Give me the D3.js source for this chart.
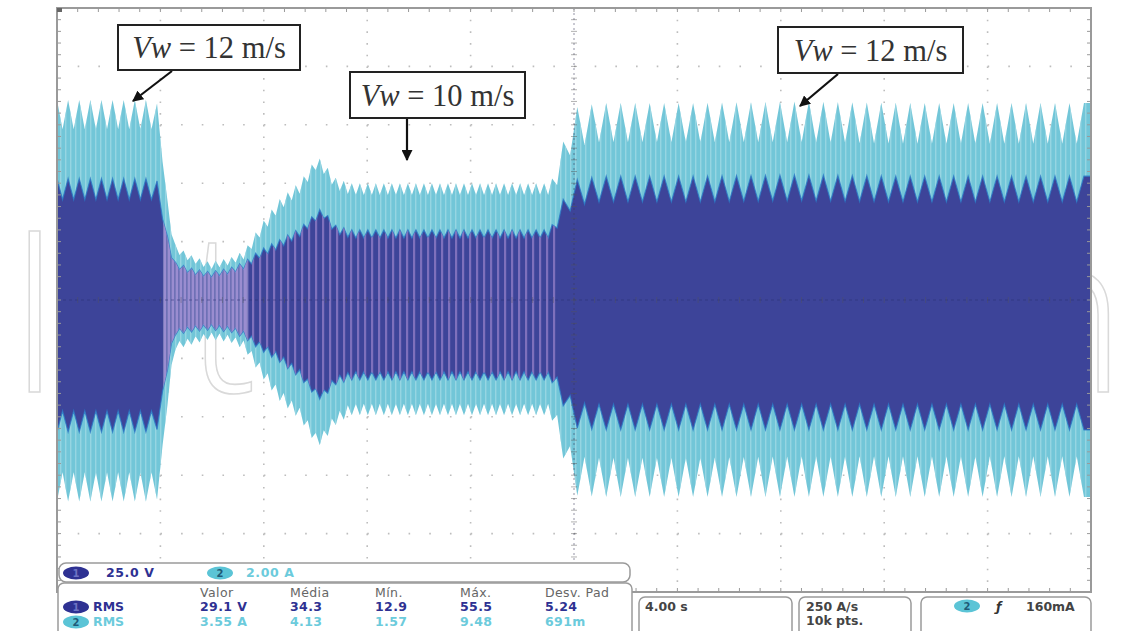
<!DOCTYPE html>
<html><head><meta charset="utf-8">
<script src="https://cdn.jsdelivr.net/npm/d3@7"></script>
<style>html,body{margin:0;padding:0;background:#fff;}svg{display:block;}</style>
</head><body>
<svg id="chart" width="1135" height="631"></svg>
<script>
// ---------- data read from the oscilloscope capture ----------
// time axis (s), 4.00 s/div, 10 divisions
const time = [0, 3.8, 4.0, 4.2, 4.55, 5.15, 5.9, 6.7, 7.25, 7.85, 8.6, 9.4, 10.05, 10.25, 10.75, 11.35, 15.2, 19.05, 19.25, 19.65, 20.05, 21, 24.9, 28.7, 32.6, 36.5, 40];
// channel 1 (voltage, 25.0 V/div) envelope peaks
const ch1Upper = [52, 52, 49, 30, 16.3, 13.7, 12, 13.7, 16.3, 21.4, 25.7, 30.8, 37.7, 39.4, 32.1, 30, 30, 30, 34.2, 44.9, 51.4, 53, 53, 53.5, 53, 53, 53];
const ch1Lower = [-56.5, -56.5, -53.5, -34, -15, -13.7, -12.8, -13.7, -16.3, -21.4, -26.5, -33.4, -41.9, -42.8, -36.4, -34.2, -34.2, -34.2, -36.4, -47, -54.8, -55.6, -55.6, -55.6, -55.6, -55.6, -55.6];
const ch1Ripple = [9, 9, 8, 4, 2.5, 2.5, 2.5, 2.5, 3, 3.5, 3.5, 3.5, 3.5, 3.5, 3.5, 3.5, 3.5, 3.5, 5, 9, 11, 11, 11, 11, 11, 11, 11];
// channel 2 (current, 2.00 A/div) envelope peaks
const ch2Upper = [6.85, 6.85, 6.5, 3.8, 1.9, 1.55, 1.3, 1.45, 1.7, 2.55, 3.45, 4.05, 4.9, 4.8, 4.2, 4.0, 4.0, 4.0, 4.3, 5.65, 6.6, 6.75, 6.75, 6.8, 6.75, 6.75, 6.75];
const ch2Lower = [-6.9, -6.9, -6.7, -4.1, -1.7, -1.55, -1.35, -1.45, -1.7, -2.55, -3.45, -4.1, -5.0, -4.95, -4.3, -3.95, -3.95, -3.95, -4.3, -5.65, -6.7, -6.75, -6.75, -6.75, -6.75, -6.75, -6.75];
const ch2Ripple = [1.0, 1.0, 0.8, 0.4, 0.25, 0.25, 0.25, 0.25, 0.3, 0.4, 0.4, 0.4, 0.4, 0.4, 0.4, 0.4, 0.4, 0.4, 0.6, 1.0, 1.35, 1.35, 1.35, 1.4, 1.4, 1.4, 1.4];
const beatPeriod = [0.43, 0.43, 0.43, 0.31, 0.31, 0.31, 0.31, 0.31, 0.31, 0.31, 0.31, 0.31, 0.31, 0.31, 0.31, 0.31, 0.31, 0.31, 0.45, 0.55, 0.56, 0.56, 0.56, 0.56, 0.56, 0.56, 0.56];

// annotations
const windLabels = [
  {speed: "12 m/s", box: [118, 25, 182, 45], arrow: [172, 71, 133, 101]},
  {speed: "10 m/s", box: [350, 72, 175, 46], arrow: [407, 118, 407, 160]},
  {speed: "12 m/s", box: [778, 27, 185, 46], arrow: [838, 74, 800, 106]}
];
// status readouts
const measHeader = ["Valor", "Média", "Mín.", "Máx.", "Desv. Pad"];
const measCh1 = ["29.1 V", "34.3", "12.9", "55.5", "5.24"];
const measCh2 = ["3.55 A", "4.13", "1.57", "9.48", "691m"];
const measX = [200, 290, 375, 460, 545];
const ch1Scale = "25.0 V", ch2Scale = "2.00 A";
const timebase = "4.00 s", sampleRate = ["250 A/s", "10k pts."], trigger = "160mA";

// ---------- layout ----------
const svg = d3.select("#chart");
const P = {x0: 57, x1: 1091, y0: 8, y1: 592};
const x = d3.scaleLinear().domain([0, 40]).range([P.x0, P.x1]);
const yV = d3.scaleLinear().domain([-125, 125]).range([P.y1, P.y0]);
const yA = d3.scaleLinear().domain([-10, 10]).range([P.y1, P.y0]);
const CYAN = "#72c6d8", BLUE = "#3d4499", LAV = "#8a78c2", EDGE = "#2a78c6";

const defs = svg.append("defs");
defs.append("clipPath").attr("id", "plotClip").append("rect")
  .attr("x", P.x0).attr("y", P.y0).attr("width", P.x1 - P.x0).attr("height", P.y1 - P.y0);
const lavPat = defs.append("pattern").attr("id", "lav").attr("patternUnits", "userSpaceOnUse").attr("width", 7).attr("height", 10);
lavPat.append("rect").attr("x", 0).attr("y", 0).attr("width", 2.2).attr("height", 10).attr("fill", LAV).attr("opacity", 0.85);
const lav2 = defs.append("pattern").attr("id", "lav2").attr("patternUnits", "userSpaceOnUse").attr("width", 4).attr("height", 10);
lav2.append("rect").attr("x", 0).attr("y", 0).attr("width", 2).attr("height", 10).attr("fill", "#9a8dd0");
lav2.append("rect").attr("x", 2.6).attr("y", 0).attr("width", 0.9).attr("height", 10).attr("fill", "#b9b0e0");
const cyPat = defs.append("pattern").attr("id", "cyp").attr("patternUnits", "userSpaceOnUse").attr("width", 5).attr("height", 10);
cyPat.append("rect").attr("x", 0).attr("y", 0).attr("width", 1.4).attr("height", 10).attr("fill", "#a6dce8").attr("opacity", 0.7);

// watermark (behind signals)
svg.append("text").attr("x", 8).attr("y", 392)
  .attr("textLength", 1118).attr("lengthAdjust", "spacingAndGlyphs")
  .attr("font-family", "'Open Sans', sans-serif").attr("font-weight", 300).attr("font-size", 225)
  .attr("fill", "none").attr("stroke", "#d9d9d9").attr("stroke-width", 1.6)
  .text("IntechOpen");

// grid
const grid = svg.append("g");
const vDiv = d3.range(0, 41, 4);
const hDiv = d3.range(-125, 126, 25);
grid.selectAll("line.v").data(vDiv.filter(d => d > 0 && d < 40 && d !== 20)).join("line")
  .attr("x1", d => x(d)).attr("x2", d => x(d)).attr("y1", P.y0).attr("y2", P.y1)
  .attr("stroke", "#bdbdbd").attr("stroke-width", 1.6).attr("stroke-dasharray", "1.6 10.08");
grid.selectAll("line.h").data(hDiv.filter(d => d > -125 && d < 125 && d !== 0)).join("line")
  .attr("x1", P.x0).attr("x2", P.x1).attr("y1", d => yV(d)).attr("y2", d => yV(d))
  .attr("stroke", "#bdbdbd").attr("stroke-width", 1.6).attr("stroke-dasharray", "1.6 19.08");

// ---------- signals ----------
function envelope(up, lo, rip) {
  const U = d3.scaleLinear().domain(time).range(up);
  const L = d3.scaleLinear().domain(time).range(lo);
  const R = d3.scaleLinear().domain(time).range(rip);
  const Pd = d3.scaleLinear().domain(time).range(beatPeriod);
  const pts = [];
  let t = 0, k = 0;
  while (t < 40) {
    const peak = k % 2 === 0;
    pts.push({t, top: peak ? U(t) : U(t) - R(t), bot: peak ? L(t) : L(t) + R(t)});
    t += Pd(t) / 2; k++;
  }
  pts.push({t: 40, top: U(40), bot: L(40)});
  return pts;
}
const sig = svg.append("g").attr("clip-path", "url(#plotClip)");
const cyanPts = envelope(ch2Upper, ch2Lower, ch2Ripple);
const bluePts = envelope(ch1Upper, ch1Lower, ch1Ripple);
const cyanArea = d3.area().x(d => x(d.t)).y0(d => yA(d.bot)).y1(d => yA(d.top));
const blueArea = d3.area().x(d => x(d.t)).y0(d => yV(d.bot)).y1(d => yV(d.top));

defs.append("clipPath").attr("id", "cyanClip").append("path").attr("d", cyanArea(cyanPts));
defs.append("clipPath").attr("id", "blueClip").append("path").attr("d", blueArea(bluePts));

sig.append("path").attr("d", cyanArea(cyanPts)).attr("fill", CYAN);
sig.append("rect").attr("clip-path", "url(#cyanClip)")
  .attr("x", P.x0).attr("y", P.y0).attr("width", P.x1 - P.x0).attr("height", P.y1 - P.y0).attr("fill", "url(#cyp)");
sig.append("path").attr("d", blueArea(bluePts)).attr("fill", BLUE).attr("stroke", EDGE).attr("stroke-width", 1.2).attr("stroke-opacity", 0.8);
sig.append("rect").attr("clip-path", "url(#blueClip)")
  .attr("x", x(7.2)).attr("y", P.y0).attr("width", x(19.3) - x(7.2)).attr("height", P.y1 - P.y0).attr("fill", "url(#lav)");
sig.append("rect").attr("clip-path", "url(#blueClip)")
  .attr("x", x(4.1)).attr("y", P.y0).attr("width", x(7.4) - x(4.1)).attr("height", P.y1 - P.y0).attr("fill", "url(#lav2)");

// centre cross with minor ticks (drawn over signals)
const cross = svg.append("g");
cross.append("line").attr("x1", x(20)).attr("x2", x(20)).attr("y1", P.y0).attr("y2", P.y1)
  .attr("stroke", "#3a3a5a").attr("stroke-opacity", 0.45).attr("stroke-width", 1.2).attr("stroke-dasharray", "2 3");
cross.append("line").attr("x1", P.x0).attr("x2", P.x1).attr("y1", yV(0)).attr("y2", yV(0))
  .attr("stroke", "#2a2d70").attr("stroke-opacity", 0.5).attr("stroke-width", 1.2).attr("stroke-dasharray", "3 3");
const minorT = d3.range(0, 40.01, 0.8);
const minorV = d3.range(-125, 125.01, 5);
cross.selectAll("line.mt").data(minorT).join("line")
  .attr("x1", d => x(d)).attr("x2", d => x(d)).attr("y1", yV(0) - 3).attr("y2", yV(0) + 3)
  .attr("stroke", "#555").attr("stroke-opacity", 0.4);
cross.selectAll("line.mv").data(minorV).join("line")
  .attr("x1", x(20) - 3).attr("x2", x(20) + 3).attr("y1", d => yV(d)).attr("y2", d => yV(d))
  .attr("stroke", "#555").attr("stroke-opacity", 0.45);

// border with minor ticks
const border = svg.append("g");
border.append("rect").attr("x", P.x0).attr("y", P.y0).attr("width", P.x1 - P.x0).attr("height", P.y1 - P.y0)
  .attr("fill", "none").attr("stroke", "#9a9a9a").attr("stroke-width", 2);
border.selectAll("line.tt").data(minorT).join("line")
  .attr("x1", d => x(d)).attr("x2", d => x(d)).attr("y1", P.y0).attr("y2", P.y0 + 4).attr("stroke", "#9a9a9a");
border.selectAll("line.tb").data(minorT).join("line")
  .attr("x1", d => x(d)).attr("x2", d => x(d)).attr("y1", P.y1 - 4).attr("y2", P.y1).attr("stroke", "#9a9a9a");
border.selectAll("line.tl").data(minorV).join("line")
  .attr("x1", P.x0).attr("x2", P.x0 + 4).attr("y1", d => yV(d)).attr("y2", d => yV(d)).attr("stroke", "#9a9a9a");
border.selectAll("line.tr").data(minorV).join("line")
  .attr("x1", P.x1 - 4).attr("x2", P.x1).attr("y1", d => yV(d)).attr("y2", d => yV(d)).attr("stroke", "#9a9a9a");
border.append("rect").attr("x", P.x0).attr("y", P.y0).attr("width", 5).attr("height", 4).attr("fill", "#666");

// ---------- annotations ----------
defs.append("marker").attr("id", "arr").attr("viewBox", "0 0 10 10").attr("refX", 9).attr("refY", 5)
  .attr("markerWidth", 5).attr("markerHeight", 5).attr("orient", "auto").attr("markerUnits", "strokeWidth")
  .append("path").attr("d", "M0,0 L10,5 L0,10 z").attr("fill", "#111");
const ann = svg.append("g").selectAll("g").data(windLabels).join("g");
ann.append("line").attr("x1", d => d.arrow[0]).attr("y1", d => d.arrow[1]).attr("x2", d => d.arrow[2]).attr("y2", d => d.arrow[3])
  .attr("stroke", "#111").attr("stroke-width", 2.2).attr("marker-end", "url(#arr)");
ann.append("rect").attr("x", d => d.box[0]).attr("y", d => d.box[1]).attr("width", d => d.box[2]).attr("height", d => d.box[3])
  .attr("fill", "#fff").attr("stroke", "#222").attr("stroke-width", 2);
const at = ann.append("text").attr("x", d => d.box[0] + d.box[2] / 2).attr("y", d => d.box[1] + d.box[3] / 2 + 10.5)
  .attr("text-anchor", "middle").attr("font-family", "'Liberation Serif', 'DejaVu Serif', serif").attr("font-size", 30.5).attr("fill", "#333");
at.append("tspan").attr("font-style", "italic").text("Vw");
at.append("tspan").text(d => " = " + d.speed);

// ---------- status bar ----------
const st = svg.append("g").attr("font-family", "'DejaVu Sans', sans-serif").attr("font-size", 12.5);
const C1 = "#2e3192", C2 = "#6ccbdc";
st.append("rect").attr("x", 58).attr("y", 583).attr("width", 574).attr("height", 70).attr("rx", 6)
  .attr("fill", "#fff").attr("stroke", "#9a9a9a").attr("stroke-width", 1.5);
st.append("rect").attr("x", 59).attr("y", 563).attr("width", 571).attr("height", 19).attr("rx", 7)
  .attr("fill", "#fff").attr("stroke", "#9a9a9a").attr("stroke-width", 1.5);
function badge(cx, cy, n, fill, tc) {
  st.append("ellipse").attr("cx", cx).attr("cy", cy).attr("rx", 13).attr("ry", 6.5).attr("fill", fill);
  st.append("text").attr("x", cx).attr("y", cy + 4).attr("text-anchor", "middle").attr("font-size", 10).attr("font-weight", "bold").attr("fill", tc).text(n);
}
badge(76, 573, "1", C1, "#6d72c4");
st.append("text").attr("x", 106).attr("y", 577).attr("font-weight", "bold").attr("letter-spacing", 0.6).attr("fill", C1).text(ch1Scale);
badge(220, 573, "2", "#5bc4d6", "#1f5a78");
st.append("text").attr("x", 246).attr("y", 577).attr("font-weight", "bold").attr("letter-spacing", 0.6).attr("fill", C2).text(ch2Scale);
st.selectAll("text.hd").data(measHeader).join("text").attr("x", (d, i) => measX[i]).attr("y", 597).attr("fill", "#666").attr("letter-spacing", 0.4).text(d => d);
badge(76, 607, "1", C1, "#6d72c4");
st.append("text").attr("x", 93).attr("y", 611).attr("font-weight", "bold").attr("fill", C1).text("RMS");
st.selectAll("text.r1").data(measCh1).join("text").attr("x", (d, i) => measX[i]).attr("y", 611).attr("font-weight", "bold").attr("letter-spacing", 0.4).attr("fill", C1).text(d => d);
badge(76, 622, "2", "#5bc4d6", "#1f5a78");
st.append("text").attr("x", 93).attr("y", 626).attr("font-weight", "bold").attr("fill", C2).text("RMS");
st.selectAll("text.r2").data(measCh2).join("text").attr("x", (d, i) => measX[i]).attr("y", 626).attr("font-weight", "bold").attr("letter-spacing", 0.4).attr("fill", C2).text(d => d);

// right boxes
const boxes = [[639, 153], [799, 112], [921, 170]];
st.selectAll("rect.bx").data(boxes).join("rect").attr("x", d => d[0]).attr("y", 597).attr("width", d => d[1]).attr("height", 50).attr("rx", 6)
  .attr("fill", "#fff").attr("stroke", "#9a9a9a").attr("stroke-width", 1.5);
st.append("text").attr("x", 645).attr("y", 611).attr("fill", "#444").attr("font-weight", "bold").text(timebase);
st.append("text").attr("x", 806).attr("y", 611).attr("fill", "#444").attr("font-weight", "bold").text(sampleRate[0]);
st.append("text").attr("x", 806).attr("y", 625).attr("fill", "#444").attr("font-weight", "bold").text(sampleRate[1]);
badge(967, 606, "2", "#5bc4d6", "#1f5a78");
st.append("text").attr("x", 996).attr("y", 611).attr("fill", "#333").attr("font-weight", "bold").attr("font-style", "italic").text("ƒ");
st.append("text").attr("x", 1026).attr("y", 611).attr("fill", "#444").attr("font-weight", "bold").text(trigger);
</script>
</body></html>
